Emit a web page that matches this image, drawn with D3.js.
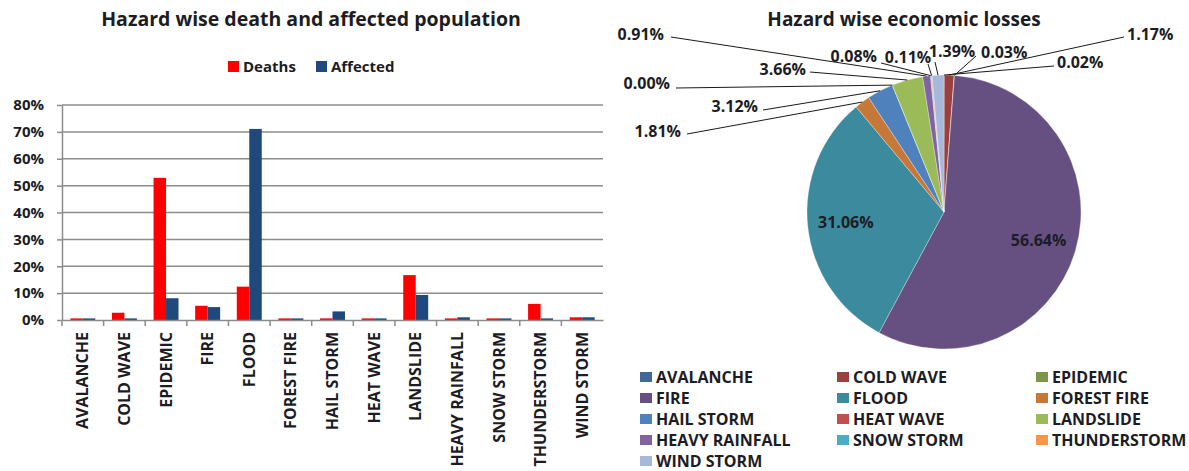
<!DOCTYPE html>
<html>
<head>
  <meta charset="utf-8">
  <title>Hazard wise losses</title>
  <script src="https://d3js.org/d3.v7.min.js"></script>
  <style>
    body { margin: 0; background: #fff; }
    text { font-family: "Open Sans", Lato, sans-serif; font-weight: 700; fill: #1c1c24; }
    .grid line { stroke: #8c8c8c; stroke-width: 1.5; }
    .axis path, .axis line { stroke: #8c8c8c; stroke-width: 1.5; }
    .axis text { font-size: 15px; }
  </style>
</head>
<body>
  <svg id="chart"></svg>

  <script>
    // Data
    const hazards = ["AVALANCHE", "COLD WAVE", "EPIDEMIC", "FIRE", "FLOOD", "FOREST FIRE",
      "HAIL STORM", "HEAT WAVE", "LANDSLIDE", "HEAVY RAINFALL", "SNOW STORM", "THUNDERSTORM", "WIND STORM"];
    const deaths = [0.006, 0.027, 0.529, 0.053, 0.124, 0.006, 0.006, 0.006, 0.167, 0.006, 0.006, 0.060, 0.010];
    const affected = [0.006, 0.006, 0.081, 0.048, 0.711, 0.006, 0.032, 0.006, 0.093, 0.010, 0.006, 0.006, 0.010];
    const yTicks = [0, 0.1, 0.2, 0.3, 0.4, 0.5, 0.6, 0.7, 0.8];
    const losses = [0.02, 1.17, 0.03, 56.64, 31.06, 1.81, 3.12, 0.00, 3.66, 0.91, 0.08, 0.11, 1.39];

    const seriesNames = ["Deaths", "Affected"];
    const seriesColors = { Deaths: "#ff0000", Affected: "#1f497d" };
    const pieColors = ["#3f6797", "#9a403e", "#7c9647", "#665082", "#3c8a9e", "#c67838",
      "#4f81bd", "#c0504d", "#9bbb59", "#8064a2", "#4bacc6", "#f79646", "#a7b9da"];

    const width = 1189, height = 471;
    const svg = d3.select("#chart").attr("width", width).attr("height", height);

    // ---------- Bar chart ----------
    const x = d3.scaleBand().domain(hazards).range([62, 603]);
    const xs = d3.scaleBand().domain(seriesNames).range([0, x.bandwidth()]).paddingOuter(0.667);
    const y = d3.scaleLinear().domain([0, 0.8]).range([320, 105]);

    svg.append("text")
       .attr("x", 311).attr("y", 26)
       .attr("text-anchor", "middle")
       .style("font-size", "19.5px")
       .text("Hazard wise death and affected population");

    // gridlines
    svg.append("g")
       .attr("class", "grid")
       .selectAll("line")
       .data(yTicks.slice(1))
       .join("line")
       .attr("x1", 62).attr("x2", 603)
       .attr("y1", d => y(d)).attr("y2", d => y(d));

    // y axis
    svg.append("g")
       .attr("class", "axis")
       .attr("transform", "translate(62,0)")
       .call(d3.axisLeft(y).tickValues(yTicks).tickFormat(d3.format(".0%")).tickSize(5).tickSizeOuter(0).tickPadding(13));

    // bars
    const data = hazards.map((h, i) => ({ h, Deaths: deaths[i], Affected: affected[i] }));
    svg.append("g")
       .selectAll("g")
       .data(data)
       .join("g")
       .attr("transform", d => `translate(${x(d.h)},0)`)
       .selectAll("rect")
       .data(d => seriesNames.map(s => ({ s, v: d[s] })))
       .join("rect")
       .attr("x", d => xs(d.s))
       .attr("width", xs.bandwidth())
       .attr("y", d => y(d.v))
       .attr("height", d => y(0) - y(d.v))
       .attr("fill", d => seriesColors[d.s]);

    // x axis
    const xAxis = svg.append("g")
       .attr("class", "axis")
       .attr("transform", `translate(0,${y(0)})`)
       .call(d3.axisBottom(x).tickSize(0).tickSizeOuter(0));
    xAxis.selectAll(".tick line").remove();
    xAxis.selectAll(".tick text")
       .attr("transform", "rotate(-90)")
       .attr("x", -12).attr("y", 0).attr("dy", "0.35em")
       .style("text-anchor", "end")
       .style("font-size", "16px");
    // category separators
    xAxis.selectAll(".sep")
       .data(hazards)
       .join("line")
       .attr("stroke", "#8c8c8c").attr("stroke-width", 1.5)
       .attr("x1", d => x(d)).attr("x2", d => x(d))
       .attr("y1", 0).attr("y2", 6);

    // legend
    const leg = svg.append("g");
    const legX = [228, 316];
    seriesNames.forEach((s, i) => {
      leg.append("rect").attr("x", legX[i]).attr("y", 61).attr("width", 11).attr("height", 11).attr("fill", seriesColors[s]);
      leg.append("text").attr("x", legX[i] + 15).attr("y", 72).style("font-size", "15px").text(s);
    });

    // ---------- Pie chart ----------
    const cx = 944, cy = 212, r = 137;
    const pie = d3.pie().sort(null).value(d => d)(losses);
    const arc = d3.arc().innerRadius(0).outerRadius(r);
    const edge = d3.arc().innerRadius(r).outerRadius(r);
    const inner = d3.arc().innerRadius(r * 0.72).outerRadius(r * 0.72);

    svg.append("text")
       .attr("x", 904).attr("y", 26)
       .attr("text-anchor", "middle")
       .style("font-size", "19px")
       .text("Hazard wise economic losses");

    const pg = svg.append("g").attr("transform", `translate(${cx},${cy})`);
    pg.selectAll("path")
      .data(pie)
      .join("path")
      .attr("d", arc)
      .attr("fill", (d, i) => pieColors[i])
      .attr("stroke", "#fff")
      .attr("stroke-width", 0.3);

    // label layout: [text x, text y, anchor, line x, line y] (null = inside)
    const labelSpots = [
      [1057, 68, "start", 1054, 66],
      [1127, 40, "start", 1124, 37],
      [981, 58, "start", 976, 56],
      null,
      null,
      [681, 137, "end", 687, 134],
      [758, 112, "end", 763, 110],
      [670, 89, "end", 676, 88],
      [806, 75, "end", 810, 72],
      [664, 40, "end", 671, 37],
      [877, 62, "end", 881, 63],
      [908, 63, "middle", 928, 64],
      [952, 57, "middle", 935, 62]
    ];
    const fmt = v => v.toFixed(2) + "%";

    pie.forEach((d, i) => {
      const spot = labelSpots[i];
      if (!spot) {
        const c = inner.centroid(d);
        svg.append("text")
           .attr("x", cx + c[0]).attr("y", cy + c[1] + 6)
           .attr("text-anchor", "middle")
           .style("font-size", "16px")
           .text(fmt(losses[i]));
        return;
      }
      const e = edge.centroid(d);
      svg.append("line")
         .attr("x1", spot[3]).attr("y1", spot[4])
         .attr("x2", cx + e[0]).attr("y2", cy + e[1])
         .attr("stroke", "#1a1a1a").attr("stroke-width", 1);
      svg.append("text")
         .attr("x", spot[0]).attr("y", spot[1])
         .attr("text-anchor", spot[2])
         .style("font-size", "16px")
         .text(fmt(losses[i]));
    });

    // legend (3 columns)
    const colX = [640, 837, 1036];
    const rowY = [377, 398, 419, 440, 461];
    hazards.forEach((h, i) => {
      const lx = colX[i % 3], ly = rowY[Math.floor(i / 3)];
      svg.append("rect").attr("x", lx).attr("y", ly - 5).attr("width", 12).attr("height", 10).attr("fill", pieColors[i]);
      svg.append("text").attr("x", lx + 16).attr("y", ly + 5.5).style("font-size", "16px").text(h);
    });
  </script>
</body>
</html>
